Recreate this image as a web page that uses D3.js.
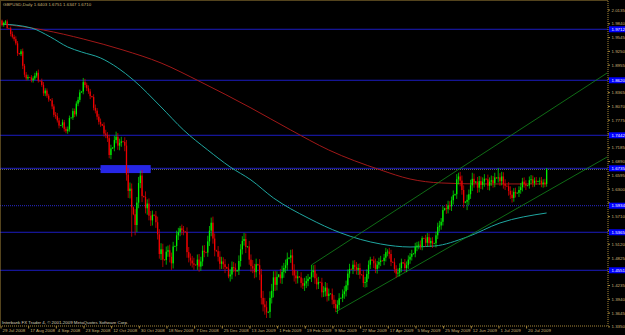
<!DOCTYPE html>
<html>
<head>
<meta charset="utf-8">
<script src="https://cdn.jsdelivr.net/npm/d3@7/dist/d3.min.js"></script>
<style>
  body { margin: 0; background: #000; }
  svg { display: block; }
  text { font-family: "Liberation Sans", Arial, sans-serif; }
</style>
</head>
<body>
<svg id="chart"></svg>
<script>
// GBPUSD daily, 29 Jul 2008 - 31 Jul 2009 (Sunday bars included, like the broker feed)

const title = "GBPUSD,Daily  1.6403 1.6751 1.6347 1.6710";
const footer = "Interbank FX Trader 4, \u00a9 2001-2009 MetaQuotes Software Corp.";

const dateLabels = ["29 Jul 2008", "17 Aug 2008", "4 Sep 2008", "23 Sep 2008", "12 Oct 2008",
  "30 Oct 2008", "18 Nov 2008", "7 Dec 2008", "25 Dec 2008", "13 Jan 2009", "1 Feb 2009",
  "19 Feb 2009", "9 Mar 2009", "27 Mar 2009", "17 Apr 2009", "5 May 2009", "25 May 2009",
  "12 Jun 2009", "1 Jul 2009", "20 Jul 2009"];

const priceTicks = [2.0135, 1.9840, 1.9545, 1.9250, 1.8955, 1.8660, 1.8365, 1.8070, 1.7775,
  1.7480, 1.7185, 1.6890, 1.6595, 1.6300, 1.6005, 1.5710, 1.5415, 1.5120, 1.4825, 1.4530,
  1.4235, 1.3940, 1.3645, 1.3350];

const firstOpen = 1.990;
// closes, one row per week (Sun..Fri)
const closes = [
  1.980, 1.985, 1.988, 1.974,
  1.973, 1.961, 1.955, 1.950, 1.941, 1.920,
  1.918, 1.924, 1.893, 1.874, 1.866, 1.869,
  1.868, 1.862, 1.866, 1.872, 1.878, 1.861,
  1.860, 1.852, 1.834, 1.840, 1.829, 1.821,
  1.819, 1.806, 1.788, 1.785, 1.776, 1.765,
  1.766, 1.772, 1.758, 1.753, 1.757, 1.781,
  1.782, 1.796, 1.789, 1.812, 1.820, 1.836,
  1.838, 1.858, 1.852, 1.845, 1.838, 1.828,
  1.826, 1.803, 1.797, 1.784, 1.773, 1.768,
  1.765, 1.748, 1.745, 1.738, 1.702, 1.716,
  1.718, 1.734, 1.741, 1.722, 1.728, 1.731,
  1.730, 1.722, 1.660, 1.625, 1.630, 1.590,
  1.575, 1.552, 1.600, 1.642, 1.658, 1.614,
  1.612, 1.588, 1.598, 1.572, 1.562, 1.574,
  1.572, 1.558, 1.532, 1.490, 1.500, 1.478,
  1.477, 1.495, 1.498, 1.484, 1.470, 1.506,
  1.507, 1.530, 1.537, 1.545, 1.541, 1.538,
  1.537, 1.494, 1.482, 1.476, 1.470, 1.467,
  1.466, 1.478, 1.463, 1.474, 1.497, 1.494,
  1.493, 1.517, 1.540, 1.557, 1.523, 1.498,
  1.496, 1.484, 1.469, 1.474, 1.468, 1.462,
  1.459, 1.442, 1.446, 1.462, 1.460, 1.453,
  1.455, 1.475, 1.500, 1.518, 1.522, 1.505,
  1.506, 1.478, 1.464, 1.459, 1.451, 1.468,
  1.466, 1.446, 1.396, 1.382, 1.376, 1.365,
  1.366, 1.396, 1.411, 1.440, 1.424, 1.441,
  1.446, 1.438, 1.452, 1.460, 1.466, 1.480,
  1.482, 1.487, 1.456, 1.444, 1.438, 1.442,
  1.440, 1.428, 1.422, 1.427, 1.432, 1.437,
  1.440, 1.451, 1.455, 1.438, 1.425, 1.430,
  1.429, 1.408, 1.410, 1.418, 1.400, 1.405,
  1.405, 1.392, 1.383, 1.373, 1.381, 1.395,
  1.396, 1.404, 1.410, 1.423, 1.448, 1.458,
  1.457, 1.467, 1.462, 1.456, 1.460, 1.446,
  1.445, 1.428, 1.430, 1.447, 1.467, 1.478,
  1.476, 1.470, 1.458, 1.467, 1.473, 1.476,
  1.475, 1.482, 1.494, 1.495, 1.490, 1.473,
  1.472, 1.458, 1.448, 1.450, 1.460, 1.472,
  1.470, 1.460, 1.466, 1.478, 1.484, 1.490,
  1.491, 1.505, 1.508, 1.510, 1.506, 1.524,
  1.523, 1.514, 1.526, 1.513, 1.518, 1.512,
  1.513, 1.530, 1.548, 1.551, 1.559, 1.584,
  1.588, 1.586, 1.594, 1.592, 1.605, 1.616,
  1.618, 1.650, 1.656, 1.647, 1.627, 1.600,
  1.602, 1.606, 1.618, 1.637, 1.651, 1.643,
  1.645, 1.632, 1.646, 1.638, 1.645, 1.651,
  1.650, 1.636, 1.645, 1.648, 1.642, 1.654,
  1.652, 1.654, 1.646, 1.656, 1.640, 1.636,
  1.635, 1.625, 1.617, 1.610, 1.623, 1.620,
  1.621, 1.627, 1.633, 1.645, 1.640, 1.636,
  1.637, 1.648, 1.650, 1.642, 1.647, 1.645,
  1.646, 1.647, 1.640, 1.643, 1.640, 1.671
];
// shadow above the body / below the body, in pips
const wickUp = [
  20, 25, 30, 40,
  5, 40, 55, 45, 60, 50,
  6, 45, 60, 40, 55, 50,
  5, 50, 45, 60, 40, 70,
  6, 55, 60, 50, 45, 40,
  7, 50, 45, 60, 70, 55,
  6, 60, 50, 45, 60, 55,
  6, 60, 55, 50, 65, 60,
  7, 90, 70, 50, 60, 55,
  6, 60, 70, 55, 60, 70,
  8, 70, 80, 60, 75, 80,
  9, 90, 110, 80, 90, 100,
  10, 100, 120, 140, 130, 110,
  15, 110, 120, 130, 100, 120,
  10, 120, 90, 110, 100, 90,
  10, 100, 120, 110, 130, 120,
  10, 110, 100, 120, 90, 100,
  10, 100, 90, 50, 80, 90,
  12, 100, 110, 90, 100, 120,
  10, 110, 120, 100, 110, 120,
  10, 120, 100, 110, 130, 110,
  10, 110, 120, 100, 90, 110,
  10, 100, 110, 120, 110, 100,
  10, 120, 110, 100, 130, 120,
  10, 120, 110, 130, 100, 120,
  10, 130, 120, 150, 140, 130,
  12, 140, 150, 130, 140, 120,
  10, 120, 130, 110, 120, 130,
  10, 120, 130, 120, 110, 120,
  10, 110, 100, 120, 110, 100,
  10, 155, 110, 120, 100, 110,
  10, 100, 110, 120, 100, 110,
  10, 110, 100, 90, 100, 110,
  10, 100, 110, 100, 90, 110,
  10, 90, 100, 110, 90, 100,
  10, 100, 110, 100, 90, 60,
  10, 90, 100, 80, 90, 100,
  10, 80, 90, 50, 80, 90,
  10, 90, 80, 90, 100, 80,
  10, 90, 80, 90, 80, 90,
  10, 90, 80, 70, 90, 40,
  10, 80, 90, 80, 70, 80,
  10, 80, 90, 100, 80, 90,
  10, 90, 100, 90, 80, 100,
  12, 110, 80, 100, 110, 100,
  12, 110, 100, 120, 130, 110,
  10, 100, 110, 100, 90, 100,
  10, 100, 90, 100, 90, 100,
  10, 200, 90, 100, 90, 100,
  10, 90, 100, 90, 80, 90,
  10, 80, 90, 80, 90, 80,
  10, 80, 90, 80, 70, 80,
  10, 70, 80, 70, 80, 30
];
const wickDown = [
  30, 35, 25, 30,
  8, 50, 35, 45, 40, 60,
  10, 40, 70, 55, 45, 40,
  8, 45, 50, 35, 45, 40,
  9, 40, 55, 60, 45, 50,
  10, 60, 50, 55, 45, 60,
  9, 55, 60, 45, 55, 50,
  8, 50, 60, 45, 55, 50,
  9, 60, 55, 60, 50, 65,
  10, 55, 60, 65, 60, 55,
  10, 65, 70, 80, 70, 90,
  12, 80, 70, 90, 100, 85,
  12, 120, 130, 150, 160, 630,
  20, 220, 150, 120, 110, 130,
  12, 110, 140, 100, 120, 110,
  12, 120, 110, 100, 130, 160,
  12, 100, 110, 120, 140, 110,
  12, 110, 100, 90, 100, 80,
  10, 120, 100, 110, 90, 110,
  12, 100, 110, 90, 100, 110,
  12, 90, 100, 120, 110, 130,
  12, 100, 120, 110, 100, 130,
  12, 40, 110, 100, 90, 110,
  12, 100, 120, 110, 100, 130,
  12, 110, 120, 100, 130, 110,
  12, 120, 140, 150, 160, 120,
  15, 130, 120, 140, 130, 120,
  12, 110, 120, 130, 110, 120,
  12, 110, 120, 130, 120, 110,
  12, 100, 70, 110, 100, 110,
  12, 100, 110, 120, 110, 100,
  12, 110, 100, 110, 120, 100,
  12, 100, 90, 70, 110, 100,
  12, 90, 100, 110, 100, 90,
  12, 100, 90, 100, 110, 90,
  12, 90, 100, 110, 100, 90,
  12, 100, 90, 100, 80, 90,
  12, 90, 80, 90, 100, 90,
  12, 80, 90, 60, 80, 90,
  12, 80, 90, 80, 90, 80,
  12, 80, 90, 80, 70, 80,
  12, 90, 80, 70, 80, 90,
  12, 90, 80, 100, 90, 80,
  12, 100, 90, 80, 100, 90,
  14, 100, 110, 120, 100, 110,
  14, 180, 110, 100, 120, 110,
  12, 110, 100, 90, 100, 110,
  12, 90, 100, 90, 100, 90,
  12, 90, 100, 90, 100, 90,
  12, 100, 90, 100, 80, 90,
  12, 90, 80, 90, 80, 90,
  12, 70, 80, 90, 80, 70,
  12, 80, 70, 80, 70, 60
];

// moving averages at a few bars
const redMaBars = [0, 24, 47, 70, 92, 115, 144, 167, 189, 219, 236, 254, 277, 315];
const redMaVals = [1.9825, 1.9696, 1.9504, 1.9268, 1.8990, 1.8583, 1.8027, 1.7555, 1.7127,
  1.6699, 1.6506, 1.6421, 1.6400, 1.6400];
const tealMaBars = [0, 17, 28, 38, 46, 57, 67, 76, 92, 105, 119, 132, 144, 157, 177, 196,
  219, 236, 250, 269, 288, 315];
const tealMaVals = [1.9825, 1.9740, 1.9547, 1.9333, 1.9226, 1.9098, 1.8884, 1.8626, 1.8048,
  1.7555, 1.7127, 1.6763, 1.6485, 1.6100, 1.5671, 1.5350, 1.5114, 1.5050, 1.5071, 1.5264,
  1.5564, 1.5778];

// drawn objects
const hLevels = [1.9712, 1.8620, 1.7442, 1.6735, 1.5365, 1.4551];
const dottedLevels = [1.5934];
const boxBars = [57, 86];
const boxPrices = [1.6633, 1.6804];
const channelUpper = [[179, 1.4665], [350, 1.8776]];
const channelLower = [[193, 1.3660], [350, 1.6977]];

const width = 625, height = 335;
const plotRight = 608, plotBottom = 326;
const axisColor = "#a8883a";
const labelColor = "#c8b274";

const svg = d3.select("#chart").attr("width", width).attr("height", height)
  .style("background", "#000");

const x = d3.scaleLinear().domain([0, 350]).range([2, 2 + 350 * 1.729]);
const y = d3.scaleLinear().domain([1.3358, 2.0339]).range([plotBottom, 0]);

const bars = closes.map((c, i) => {
  const o = i ? closes[i - 1] : firstOpen;
  return {
    i, o, c,
    h: Math.max(o, c) + wickUp[i] / 10000,
    l: Math.min(o, c) - wickDown[i] / 10000
  };
});

const plot = svg.append("g");
plot.append("defs").append("clipPath").attr("id", "clip")
  .append("rect").attr("x", 0).attr("y", 0).attr("width", plotRight).attr("height", plotBottom);
const inner = plot.append("g").attr("clip-path", "url(#clip)");

// horizontal levels
inner.selectAll(".hl").data(hLevels).join("line")
  .attr("x1", 0).attr("x2", plotRight)
  .attr("y1", d => y(d)).attr("y2", d => y(d))
  .attr("stroke", "#1c1cc0").attr("stroke-width", 1);
inner.selectAll(".dl").data(dottedLevels).join("line")
  .attr("x1", 0).attr("x2", plotRight)
  .attr("y1", d => y(d)).attr("y2", d => y(d))
  .attr("stroke", "#2a2ad0").attr("stroke-width", 1).attr("stroke-dasharray", "1,1");

// bid line
const lastClose = closes[closes.length - 1];
inner.append("line")
  .attr("x1", 0).attr("x2", plotRight)
  .attr("y1", y(lastClose)).attr("y2", y(lastClose))
  .attr("stroke", "#808080").attr("stroke-width", 0.8).attr("stroke-dasharray", "1,1");

// blue rectangle
inner.append("rect")
  .attr("x", x(boxBars[0])).attr("width", x(boxBars[1]) - x(boxBars[0]))
  .attr("y", y(boxPrices[1])).attr("height", y(boxPrices[0]) - y(boxPrices[1]))
  .attr("fill", "#2626e6");

// moving averages
const maLine = d3.line().x(d => x(d[0])).y(d => y(d[1])).curve(d3.curveMonotoneX);
inner.append("path")
  .attr("d", maLine(redMaBars.map((b, k) => [b, redMaVals[k]])))
  .attr("fill", "none").attr("stroke", "#a01818").attr("stroke-width", 1);
inner.append("path")
  .attr("d", maLine(tealMaBars.map((b, k) => [b, tealMaVals[k]])))
  .attr("fill", "none").attr("stroke", "#1fa6a0").attr("stroke-width", 1);

// channel
const straight = d3.line().x(d => x(d[0])).y(d => y(d[1]));
[channelUpper, channelLower].forEach(pts => {
  inner.append("path").attr("d", straight(pts))
    .attr("fill", "none").attr("stroke", "#13871a").attr("stroke-width", 0.8);
});

// candles
const col = d => d.c >= d.o ? "#00f000" : "#f00000";
inner.selectAll(".wick").data(bars).join("line")
  .attr("x1", d => x(d.i)).attr("x2", d => x(d.i))
  .attr("y1", d => y(d.h)).attr("y2", d => y(d.l))
  .attr("stroke", col).attr("stroke-width", 0.7);
inner.selectAll(".body").data(bars).join("rect")
  .attr("x", d => x(d.i) - 0.65).attr("width", 1.3)
  .attr("y", d => y(Math.max(d.o, d.c)))
  .attr("height", d => Math.max(0.6, Math.abs(y(d.o) - y(d.c))))
  .attr("fill", col);

// frame
svg.append("rect").attr("x", 0.5).attr("y", 0.5)
  .attr("width", plotRight - 0.5).attr("height", plotBottom - 0.5)
  .attr("fill", "none").attr("stroke", axisColor).attr("stroke-width", 1)
  .attr("stroke-dasharray", "1,1");

// price axis
const tagged = hLevels.concat(dottedLevels);
const yAxis = svg.append("g").attr("transform", `translate(${plotRight},0)`)
  .call(d3.axisRight(y).tickValues(priceTicks).tickSize(2).tickFormat(d3.format(".4f")));
yAxis.select(".domain").remove();
yAxis.selectAll("line").attr("stroke", axisColor);
yAxis.selectAll("text").attr("fill", labelColor).attr("font-size", 4.4)
  .attr("x", 3.5).attr("dy", "0.35em").attr("font-family", "Liberation Sans, Arial");
// labels sitting under an object price tag are covered by it
yAxis.selectAll(".tick")
  .filter(d => tagged.some(t => Math.abs(y(t) - y(d)) < 5.5))
  .select("text").remove();

// highlighted object prices on the axis
const tags = svg.append("g").selectAll("g").data(tagged).join("g")
  .attr("transform", d => `translate(${plotRight + 1},${y(d)})`);
tags.append("rect").attr("x", 0).attr("y", -3).attr("width", 17).attr("height", 6).attr("fill", "#0000ff");
tags.append("text").attr("x", 2.5).attr("dy", "0.35em").attr("fill", "#fff")
  .attr("font-size", 4.4).text(d => d3.format(".4f")(d));

// date axis
const xAxis = svg.append("g").attr("transform", `translate(0,${plotBottom})`)
  .call(d3.axisBottom(x).tickValues(dateLabels.map((_, i) => i * 16)).tickSize(2.5)
    .tickFormat((d, i) => dateLabels[i]));
xAxis.select(".domain").remove();
xAxis.selectAll("line").attr("stroke", axisColor).attr("transform", "translate(-1.5,0)");
xAxis.selectAll("text").attr("fill", labelColor).attr("font-size", 4.4)
  .attr("text-anchor", "start").attr("x", 0).attr("y", 3.2).attr("dy", "0.71em");

// texts
svg.append("text").attr("x", 3).attr("y", 6).attr("fill", labelColor)
  .attr("font-size", 4.4).text(title);
svg.append("text").attr("x", 2).attr("y", 324).attr("fill", "#d8d0b8")
  .attr("font-size", 4.4).text(footer);
</script>
</body>
</html>
